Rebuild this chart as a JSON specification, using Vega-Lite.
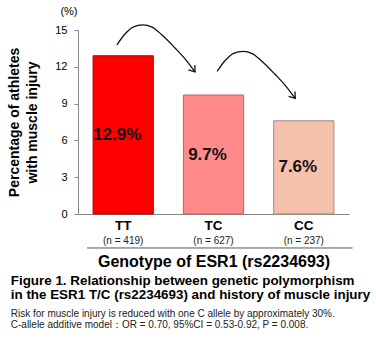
{
  "$schema": "https://vega.github.io/schema/vega-lite/v6.json",
  "width": 271,
  "height": 184,
  "autosize": {"type": "none"},
  "padding": {"left": 78, "top": 30, "right": 27, "bottom": 125},
  "background": "white",
  "config": {
    "font": "Liberation Sans",
    "view": {"stroke": null},
    "axisY": {
      "titleFontSize": 14, "titleFontWeight": "bold", "titleColor": "#000000",
      "titleLineHeight": 18, "titlePadding": 15,
      "labelFontSize": 11, "labelColor": "#000000", "labelPadding": 7,
      "tickSize": 4, "tickColor": "#888888", "domainColor": "#888888",
      "grid": false
    }
  },
  "title": {
    "text": ["Figure 1. Relationship between genetic polymorphism", "in the ESR1 T/C (rs2234693) and history of muscle injury"],
    "subtitle": ["Risk for muscle injury is reduced with one C allele  by approximately 30%.", "C-allele additive model：OR = 0.70, 95%CI = 0.53-0.92, P = 0.008."],
    "orient": "bottom",
    "anchor": "start",
    "frame": "bounds",
    "fontSize": 13.4,
    "fontWeight": "bold",
    "lineHeight": 14.5,
    "color": "#000000",
    "subtitleFontSize": 10,
    "subtitleLineHeight": 10.5,
    "subtitleColor": "#222222",
    "subtitlePadding": 8,
    "offset": 4,
    "dx": 3
  },
  "datasets": {
    "bars": [
      {"genotype": "TT", "pct": 12.9, "label": "12.9%", "n": "(n = 419)"},
      {"genotype": "TC", "pct": 9.7, "label": "9.7%", "n": "(n = 627)"},
      {"genotype": "CC", "pct": 7.6, "label": "7.6%", "n": "(n = 237)"}
    ],
    "arrows": [
      {"arrow": 1, "i": -0.069, "p": 13.78},
      {"arrow": 1, "i": 0.02, "p": 14.67},
      {"arrow": 1, "i": 0.109, "p": 15.24},
      {"arrow": 1, "i": 0.22, "p": 15.41},
      {"arrow": 1, "i": 0.319, "p": 15.24},
      {"arrow": 1, "i": 0.43, "p": 14.59},
      {"arrow": 1, "i": 0.574, "p": 13.53},
      {"arrow": 1, "i": 0.696, "p": 12.55},
      {"arrow": 1, "i": 0.796, "p": 11.58},
      {"arrow": 2, "i": 1.04, "p": 11.62},
      {"arrow": 2, "i": 1.129, "p": 12.51},
      {"arrow": 2, "i": 1.218, "p": 13.08},
      {"arrow": 2, "i": 1.328, "p": 13.25},
      {"arrow": 2, "i": 1.428, "p": 13.08},
      {"arrow": 2, "i": 1.539, "p": 12.43},
      {"arrow": 2, "i": 1.683, "p": 11.37},
      {"arrow": 2, "i": 1.805, "p": 10.39},
      {"arrow": 2, "i": 1.905, "p": 9.42}
    ],
    "heads": [
      {"arrow": 1, "i": 0.796, "p": 11.58},
      {"arrow": 2, "i": 1.905, "p": 9.42}
    ]
  },
  "layer": [
    {
      "data": {"name": "bars"},
      "mark": {"type": "bar", "strokeWidth": 1},
      "encoding": {
        "x": {
          "field": "genotype", "type": "nominal", "sort": ["TT", "TC", "CC"],
          "scale": {"type": "band", "paddingInner": 0.333, "paddingOuter": 0.167},
          "axis": {
            "title": "Genotype of ESR1 (rs2234693)",
            "titleFontSize": 16, "titleFontWeight": "bold", "titleColor": "#000000",
            "titlePadding": 22,
            "labelFontSize": 13.5, "labelFontWeight": "bold", "labelColor": "#000000",
            "labelAngle": 0, "labelPadding": 4, "ticks": false,
            "domainColor": "#888888"
          }
        },
        "y": {
          "field": "pct", "type": "quantitative",
          "scale": {"domain": [0, 15], "nice": false},
          "axis": {"values": [0, 3, 6, 9, 12, 15], "title": ["Percentage of athletes", "with muscle injury"]}
        },
        "color": {
          "field": "genotype", "type": "nominal", "legend": null,
          "scale": {"domain": ["TT", "TC", "CC"], "range": ["#FF0000", "#FF8A8A", "#F5C1AC"]}
        },
        "stroke": {
          "field": "genotype", "type": "nominal", "legend": null,
          "scale": {"domain": ["TT", "TC", "CC"], "range": ["#B00000", "#B06666", "#A08A80"]}
        }
      }
    },
    {
      "data": {"name": "bars"},
      "transform": [{"calculate": "datum.pct / 2", "as": "mid"}],
      "mark": {"type": "text", "fontSize": 17, "fontWeight": "bold", "dx": -6, "color": "#111111"},
      "encoding": {
        "x": {"field": "genotype", "type": "nominal", "sort": ["TT", "TC", "CC"], "scale": {"type": "band", "paddingInner": 0.333, "paddingOuter": 0.167}, "axis": null},
        "y": {"field": "mid", "type": "quantitative", "scale": {"domain": [0, 15], "nice": false}, "axis": {"values": [0, 3, 6, 9, 12, 15], "title": ["Percentage of athletes", "with muscle injury"]}},
        "text": {"field": "label"}
      }
    },
    {
      "data": {"name": "bars"},
      "mark": {"type": "text", "fontSize": 10, "dy": 27, "color": "#222222"},
      "encoding": {
        "x": {"field": "genotype", "type": "nominal", "sort": ["TT", "TC", "CC"], "scale": {"type": "band", "paddingInner": 0.333, "paddingOuter": 0.167}, "axis": null},
        "y": {"datum": 0, "type": "quantitative", "scale": {"domain": [0, 15], "nice": false}, "axis": {"values": [0, 3, 6, 9, 12, 15], "title": ["Percentage of athletes", "with muscle injury"]}},
        "text": {"field": "n"}
      }
    },
    {
      "data": {"name": "arrows"},
      "mark": {"type": "line", "color": "#111111", "strokeWidth": 1.3, "interpolate": "monotone"},
      "encoding": {
        "x": {"field": "i", "type": "quantitative", "scale": {"domain": [-0.5, 2.5], "nice": false, "zero": false}, "axis": null},
        "y": {"field": "p", "type": "quantitative", "scale": {"domain": [0, 15], "nice": false}, "axis": {"values": [0, 3, 6, 9, 12, 15], "title": ["Percentage of athletes", "with muscle injury"]}},
        "detail": {"field": "arrow", "type": "nominal"}
      }
    },
    {
      "data": {"name": "heads"},
      "mark": {"type": "point", "shape": "M-1,-0.7L0,0L-1,0.7", "filled": false, "color": "#111111", "strokeWidth": 1.3, "size": 130, "angle": 53, "opacity": 1},
      "encoding": {
        "x": {"field": "i", "type": "quantitative", "scale": {"domain": [-0.5, 2.5], "nice": false, "zero": false}, "axis": null},
        "y": {"field": "p", "type": "quantitative", "scale": {"domain": [0, 15], "nice": false}, "axis": {"values": [0, 3, 6, 9, 12, 15], "title": ["Percentage of athletes", "with muscle injury"]}}
      }
    },
    {
      "data": {"values": [{"t": "(%)"}]},
      "mark": {"type": "text", "fontSize": 11, "color": "#000000"},
      "encoding": {
        "x": {"datum": -0.6, "type": "quantitative", "scale": {"domain": [-0.5, 2.5], "nice": false, "zero": false}, "axis": null},
        "y": {"datum": 16.47, "type": "quantitative", "scale": {"domain": [0, 15], "nice": false}, "axis": {"values": [0, 3, 6, 9, 12, 15], "title": ["Percentage of athletes", "with muscle injury"]}},
        "text": {"field": "t"}
      }
    },
    {
      "data": {"values": [{"t": "line"}]},
      "mark": {"type": "rule", "color": "#555555", "strokeWidth": 1},
      "encoding": {
        "x": {"datum": -0.4, "type": "quantitative", "scale": {"domain": [-0.5, 2.5], "nice": false, "zero": false}, "axis": null},
        "x2": {"datum": 2.54},
        "y": {"datum": -2.77, "type": "quantitative", "scale": {"domain": [0, 15], "nice": false}, "axis": {"values": [0, 3, 6, 9, 12, 15], "title": ["Percentage of athletes", "with muscle injury"]}}
      }
    }
  ],
  "resolve": {"scale": {"x": "independent"}}
}
